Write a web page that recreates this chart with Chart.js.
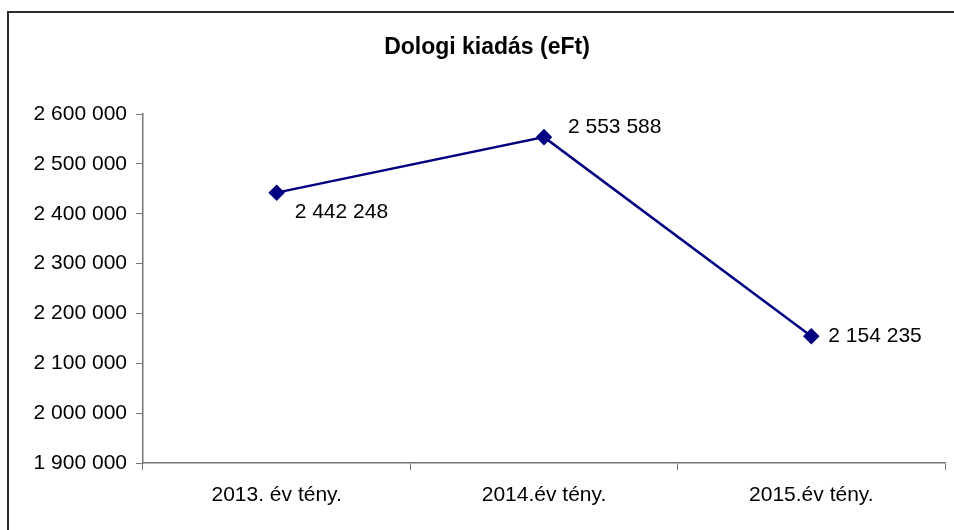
<!DOCTYPE html>
<html lang="hu">
<head>
  <meta charset="UTF-8" />
  <title>Dologi kiadás (eFt)</title>
  <style>
    html, body { margin: 0; padding: 0; background: #fff; }
    #wrap { width: 954px; height: 530px; }
  </style>
</head>
<body>
  <div id="wrap">
    <canvas id="chart" width="954" height="530"></canvas>
  </div>

  <script src="https://cdn.jsdelivr.net/npm/chart.js"></script>
  <script>
    const categories = ['2013. év tény.', '2014.év tény.', '2015.év tény.'];
    const kiadas = [2442248, 2553588, 2154235];
    const yMin = 1900000;
    const yMax = 2600000;
    const yStep = 100000;

    const FONT = "'Liberation Sans', Arial, sans-serif";
    const axisColor = '#767676';

    // space as thousands separator, like the original
    function fmt(v) {
      return String(v).replace(/\B(?=(\d{3})+(?!\d))/g, ' ');
    }

    // label placement relative to each point
    const labelOffsets = [[18, 20], [24, -10], [17, 0]];

    const extras = {
      id: 'extras',
      afterLayout(chart) {
        // the original title sits a little right of the canvas centre
        if (chart.titleBlock) chart.titleBlock.left += 28;
      },
      beforeDraw(chart) {
        const ctx = chart.ctx;
        ctx.save();
        ctx.strokeStyle = '#2b2b2b';
        ctx.lineWidth = 2;
        ctx.strokeRect(8, 12, 2000, 2000);
        ctx.restore();
      },
      afterDatasetsDraw(chart) {
        const ctx = chart.ctx;
        const meta = chart.getDatasetMeta(0);
        ctx.save();
        ctx.font = '21px ' + FONT;
        ctx.fillStyle = '#000';
        ctx.textAlign = 'left';
        ctx.textBaseline = 'middle';
        meta.data.forEach((pt, i) => {
          const off = labelOffsets[i] || [15, 0];
          ctx.fillText(fmt(kiadas[i]), pt.x + off[0], pt.y + off[1]);
        });
        ctx.restore();
      }
    };

    new Chart(document.getElementById('chart'), {
      type: 'line',
      data: {
        labels: categories,
        datasets: [{
          data: kiadas,
          borderColor: '#000080',
          backgroundColor: '#000080',
          borderWidth: 2.5,
          pointStyle: 'rectRot',
          pointRadius: 6.5,
          pointHoverRadius: 6.5,
          tension: 0
        }]
      },
      options: {
        responsive: false,
        animation: false,
        devicePixelRatio: 1,
        layout: { padding: { top: 24, right: 8, left: 0, bottom: 0 } },
        plugins: {
          legend: { display: false },
          tooltip: { enabled: false },
          title: {
            display: true,
            text: 'Dologi kiadás (eFt)',
            color: '#000',
            font: { family: FONT, size: 23, weight: 'bold' },
            padding: { top: 10, bottom: 52.4 }
          }
        },
        scales: {
          x: {
            offset: true,
            grid: {
              offset: true,
              drawOnChartArea: false,
              drawTicks: true,
              tickLength: 7,
              color: axisColor
            },
            border: { display: true, color: axisColor, width: 1.5 },
            ticks: {
              color: '#000',
              font: { family: FONT, size: 21 },
              padding: 13,
              maxRotation: 0
            },
            afterFit(scale) { scale.height = 67; }
          },
          y: {
            min: yMin,
            max: yMax,
            grid: {
              drawOnChartArea: false,
              drawTicks: true,
              tickLength: 7,
              color: axisColor
            },
            border: { display: true, color: axisColor, width: 1.5 },
            ticks: {
              stepSize: yStep,
              color: '#000',
              font: { family: FONT, size: 21 },
              padding: 9,
              callback: v => fmt(v)
            },
            afterFit(scale) { scale.width = 143; }
          }
        }
      },
      plugins: [extras]
    });
  </script>
</body>
</html>
